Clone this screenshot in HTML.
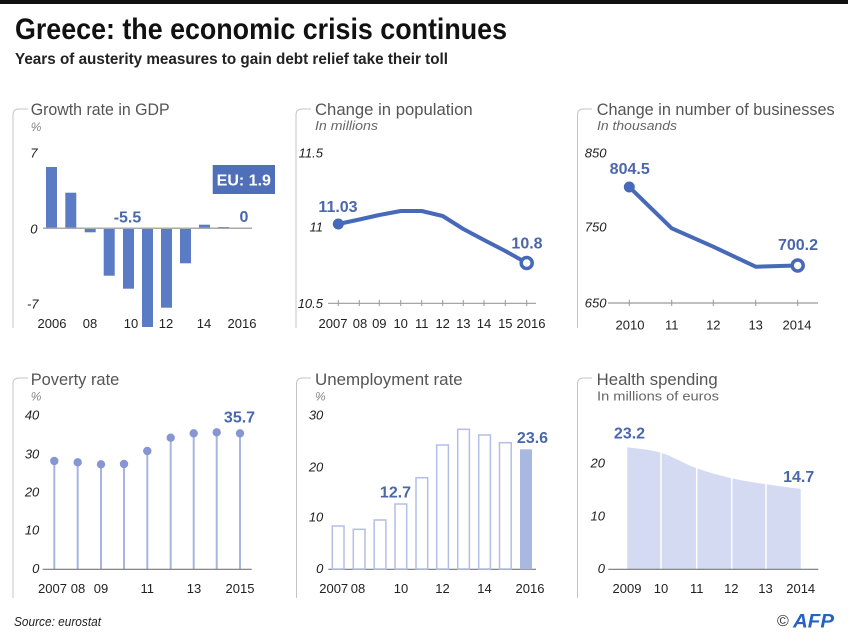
<!DOCTYPE html>
<html><head><meta charset="utf-8"><style>
html,body{margin:0;padding:0;background:#fff;}
svg{display:block;}
text{font-family:"Liberation Sans",sans-serif;}
.pt{font-size:16.5px;fill:#555;}
.sub{font-size:13px;fill:#666;font-style:italic;}
.pct{font-size:12px;fill:#888;font-style:italic;}
.yl{font-size:13px;fill:#222;font-style:italic;text-anchor:end;}
.xl{font-size:13px;fill:#222;text-anchor:middle;}
.vl{font-size:16px;fill:#4a66ad;font-weight:bold;text-anchor:middle;}
.br{fill:none;stroke:#c4c4c4;stroke-width:1;}
</style></head><body>
<svg width="848" height="640" viewBox="0 0 848 640" xmlns="http://www.w3.org/2000/svg">
<rect x="0" y="0" width="848" height="640" fill="#fff"/>
<rect x="0" y="0" width="848" height="4" fill="#111"/>
<text x="15" y="39" font-size="30" font-weight="bold" fill="#111" textLength="492" lengthAdjust="spacingAndGlyphs">Greece: the economic crisis continues</text>
<text x="15" y="64" font-size="16" font-weight="bold" fill="#222" textLength="433" lengthAdjust="spacingAndGlyphs">Years of austerity measures to gain debt relief take their toll</text>

<!-- brackets -->
<path class="br" d="M13,328 V115 Q13,109 19,109 H28"/>
<path class="br" d="M296,328 V115 Q296,109 302,109 H311"/>
<path class="br" d="M577.5,328 V115 Q577.5,109 583.5,109 H592"/>
<path class="br" d="M13,598 V384 Q13,378 19,378 H28"/>
<path class="br" d="M296.5,598 V384 Q296.5,378 302.5,378 H311"/>
<path class="br" d="M577.5,598 V384 Q577.5,378 583.5,378 H592"/>

<!-- Panel 1: GDP -->
<text class="pt" x="30.7" y="115" textLength="139" lengthAdjust="spacingAndGlyphs">Growth rate in GDP</text>
<text class="pct" x="30.7" y="131">%</text>
<text class="yl" x="37.5" y="157.5">7</text>
<text class="yl" x="37.5" y="233.5">0</text>
<text class="yl" x="38.5" y="308.5">-7</text>
<g fill="#5b7bc5">
<rect x="46" y="167" width="11" height="61"/>
<rect x="65.3" y="192.7" width="11" height="35.3"/>
<rect x="84.7" y="228" width="11" height="4.3"/>
<rect x="103.7" y="228" width="11" height="47.7"/>
<rect x="123" y="228" width="11" height="60.7"/>
<rect x="142" y="228" width="11" height="99"/>
<rect x="161" y="228" width="11" height="79.7"/>
<rect x="180" y="228" width="11" height="35.3"/>
<rect x="199" y="224.7" width="11" height="3.3"/>
<rect x="218" y="227" width="11" height="1"/>
</g>
<line x1="43" y1="228.3" x2="252" y2="228.3" stroke="#aaa" stroke-width="1.5"/>
<text class="vl" x="127.5" y="222.5">-5.5</text>
<text class="vl" x="244" y="221.8">0</text>
<rect x="212.7" y="165" width="62.3" height="29" fill="#4f6fb9"/>
<text x="243.8" y="185.5" font-size="16" font-weight="bold" fill="#fff" text-anchor="middle">EU: 1.9</text>
<text class="xl" x="52" y="328">2006</text>
<text class="xl" x="90" y="328">08</text>
<text class="xl" x="131" y="328">10</text>
<text class="xl" x="166" y="328">12</text>
<text class="xl" x="204" y="328">14</text>
<text class="xl" x="242" y="328">2016</text>

<!-- Panel 2: Population -->
<text class="pt" x="315" y="115" textLength="157.7" lengthAdjust="spacingAndGlyphs">Change in population</text>
<text class="sub" x="315" y="130" textLength="63" lengthAdjust="spacingAndGlyphs">In millions</text>
<text class="yl" x="323" y="157.3">11.5</text>
<text class="yl" x="323" y="231.3">11</text>
<text class="yl" x="323" y="308">10.5</text>
<line x1="328" y1="303.3" x2="536" y2="303.3" stroke="#999" stroke-width="1.2"/>
<g stroke="#999" stroke-width="1">
<line x1="338.3" y1="300" x2="338.3" y2="306"/>
<line x1="359.3" y1="300" x2="359.3" y2="306"/>
<line x1="379.3" y1="300" x2="379.3" y2="306"/>
<line x1="400.7" y1="300" x2="400.7" y2="306"/>
<line x1="421.7" y1="300" x2="421.7" y2="306"/>
<line x1="442.7" y1="300" x2="442.7" y2="306"/>
<line x1="463.3" y1="300" x2="463.3" y2="306"/>
<line x1="484" y1="300" x2="484" y2="306"/>
<line x1="505.3" y1="300" x2="505.3" y2="306"/>
<line x1="526.7" y1="300" x2="526.7" y2="306"/>
</g>
<polyline points="338.3,224 359.3,219.5 379.3,215 400.7,211 421.7,211 442.7,216 463.3,229 484,240 505.3,251 526.7,263" fill="none" stroke="#4669b8" stroke-width="4" stroke-linejoin="round" stroke-linecap="round"/>
<circle cx="338.3" cy="224" r="5.5" fill="#4669b8"/>
<circle cx="526.7" cy="263" r="5.5" fill="#fff" stroke="#4669b8" stroke-width="3.5"/>
<text class="vl" x="338" y="211.8">11.03</text>
<text class="vl" x="527" y="248.5">10.8</text>
<text class="xl" x="333" y="328">2007</text>
<text class="xl" x="360" y="328">08</text>
<text class="xl" x="379.3" y="328">09</text>
<text class="xl" x="400.7" y="328">10</text>
<text class="xl" x="421.7" y="328">11</text>
<text class="xl" x="442.7" y="328">12</text>
<text class="xl" x="463.3" y="328">13</text>
<text class="xl" x="484" y="328">14</text>
<text class="xl" x="505.3" y="328">15</text>
<text class="xl" x="531" y="328">2016</text>

<!-- Panel 3: Businesses -->
<text class="pt" x="596.7" y="115" textLength="238" lengthAdjust="spacingAndGlyphs">Change in number of businesses</text>
<text class="sub" x="597" y="130" textLength="80" lengthAdjust="spacingAndGlyphs">In thousands</text>
<text class="yl" x="606.5" y="157.3">850</text>
<text class="yl" x="606.5" y="231.3">750</text>
<text class="yl" x="606.5" y="307.3">650</text>
<line x1="608" y1="303" x2="818" y2="303" stroke="#999" stroke-width="1.2"/>
<g stroke="#999" stroke-width="1">
<line x1="629.3" y1="299.7" x2="629.3" y2="306"/>
<line x1="671.7" y1="299.7" x2="671.7" y2="306"/>
<line x1="713.3" y1="299.7" x2="713.3" y2="306"/>
<line x1="755.7" y1="299.7" x2="755.7" y2="306"/>
<line x1="797.7" y1="299.7" x2="797.7" y2="306"/>
</g>
<polyline points="629.3,187 671.7,228.3 713.3,246.7 755.7,266.7 797.7,265.5" fill="none" stroke="#4669b8" stroke-width="4" stroke-linejoin="round" stroke-linecap="round"/>
<circle cx="629.3" cy="187" r="5.5" fill="#4669b8"/>
<circle cx="797.7" cy="265.5" r="5.5" fill="#fff" stroke="#4669b8" stroke-width="3.5"/>
<text class="vl" x="629.7" y="174">804.5</text>
<text class="vl" x="798" y="249.8">700.2</text>
<text class="xl" x="630" y="329.5">2010</text>
<text class="xl" x="671.7" y="329.5">11</text>
<text class="xl" x="713.3" y="329.5">12</text>
<text class="xl" x="755.7" y="329.5">13</text>
<text class="xl" x="797" y="329.5">2014</text>

<!-- Panel 4: Poverty -->
<text class="pt" x="30.7" y="385" textLength="88.6" lengthAdjust="spacingAndGlyphs">Poverty rate</text>
<text class="pct" x="30.7" y="400.5">%</text>
<text class="yl" x="39.3" y="419.7">40</text>
<text class="yl" x="39.3" y="458.7">30</text>
<text class="yl" x="39.3" y="496.4">20</text>
<text class="yl" x="39.3" y="534.7">10</text>
<text class="yl" x="39.3" y="573">0</text>
<g stroke="#a8b5e1" stroke-width="2">
<line x1="54.3" y1="461" x2="54.3" y2="569"/>
<line x1="77.7" y1="462.3" x2="77.7" y2="569"/>
<line x1="101" y1="464.3" x2="101" y2="569"/>
<line x1="124" y1="464" x2="124" y2="569"/>
<line x1="147.3" y1="451" x2="147.3" y2="569"/>
<line x1="170.7" y1="437.7" x2="170.7" y2="569"/>
<line x1="193.7" y1="433.3" x2="193.7" y2="569"/>
<line x1="216.7" y1="432.3" x2="216.7" y2="569"/>
<line x1="240" y1="433.3" x2="240" y2="569"/>
</g>
<line x1="42.7" y1="569.3" x2="251.7" y2="569.3" stroke="#777" stroke-width="1.2"/>
<g fill="#8596d2">
<circle cx="54.3" cy="461" r="4.2"/>
<circle cx="77.7" cy="462.3" r="4.2"/>
<circle cx="101" cy="464.3" r="4.2"/>
<circle cx="124" cy="464" r="4.2"/>
<circle cx="147.3" cy="451" r="4.2"/>
<circle cx="170.7" cy="437.7" r="4.2"/>
<circle cx="193.7" cy="433.3" r="4.2"/>
<circle cx="216.7" cy="432.3" r="4.2"/>
<circle cx="240" cy="433.3" r="4.2"/>
</g>
<text class="vl" x="239.5" y="422.5">35.7</text>
<text class="xl" x="52.5" y="593">2007</text>
<text class="xl" x="78" y="593">08</text>
<text class="xl" x="101" y="593">09</text>
<text class="xl" x="147.3" y="593">11</text>
<text class="xl" x="194" y="593">13</text>
<text class="xl" x="240" y="593">2015</text>

<!-- Panel 5: Unemployment -->
<text class="pt" x="315" y="385" textLength="147.7" lengthAdjust="spacingAndGlyphs">Unemployment rate</text>
<text class="pct" x="315" y="400.5">%</text>
<text class="yl" x="323.3" y="419.7">30</text>
<text class="yl" x="323.3" y="471.4">20</text>
<text class="yl" x="323.3" y="521.4">10</text>
<text class="yl" x="323.3" y="573">0</text>
<line x1="328.3" y1="569.3" x2="536" y2="569.3" stroke="#777" stroke-width="1.2"/>
<g fill="#fff" stroke="#b3bee6" stroke-width="1.5">
<rect x="332.3" y="526" width="11.7" height="43"/>
<rect x="353.3" y="529.3" width="11.7" height="39.7"/>
<rect x="374.2" y="520" width="11.7" height="49"/>
<rect x="395" y="504" width="11.7" height="65"/>
<rect x="416" y="477.7" width="11.7" height="91.3"/>
<rect x="436.7" y="445" width="11.7" height="124"/>
<rect x="457.7" y="429.3" width="11.7" height="139.7"/>
<rect x="478.7" y="435" width="11.7" height="134"/>
<rect x="499.5" y="442.7" width="11.7" height="126.3"/>
</g>
<rect x="520" y="449.3" width="12" height="120" fill="#a9b8e1"/>
<text class="vl" x="395.5" y="497.5">12.7</text>
<text class="vl" x="532.5" y="443">23.6</text>
<text class="xl" x="333.7" y="593">2007</text>
<text class="xl" x="358" y="593">08</text>
<text class="xl" x="401" y="593">10</text>
<text class="xl" x="442.5" y="593">12</text>
<text class="xl" x="484.5" y="593">14</text>
<text class="xl" x="530" y="593">2016</text>

<!-- Panel 6: Health -->
<text class="pt" x="596.7" y="385" textLength="121" lengthAdjust="spacingAndGlyphs">Health spending</text>
<text x="597" y="400.7" font-size="13" fill="#666" textLength="122" lengthAdjust="spacingAndGlyphs">In millions of euros</text>
<text class="yl" x="605" y="467.4">20</text>
<text class="yl" x="605" y="520.7">10</text>
<text class="yl" x="605" y="573">0</text>
<path d="M627.3,569.3 V447.3 C632.9,448.2 649.4,449.2 661,452.7 C672.6,456.2 684.9,464 696.7,468.3 C708.5,472.6 720.1,475.6 731.7,478.3 C743.3,481 754.5,482.5 766,484.3 C777.5,486.1 795,488.2 800.7,489 V569.3 Z" fill="#d3daf2"/>
<g stroke="#fff" stroke-width="1.5">
<line x1="661" y1="450" x2="661" y2="569"/>
<line x1="696.7" y1="465" x2="696.7" y2="569"/>
<line x1="731.7" y1="475" x2="731.7" y2="569"/>
<line x1="766" y1="482" x2="766" y2="569"/>
</g>
<line x1="608.3" y1="569.3" x2="818.3" y2="569.3" stroke="#777" stroke-width="1.2"/>
<text class="vl" x="629.5" y="438.5">23.2</text>
<text class="vl" x="798.7" y="481.8">14.7</text>
<text class="xl" x="627" y="593">2009</text>
<text class="xl" x="661" y="593">10</text>
<text class="xl" x="696.7" y="593">11</text>
<text class="xl" x="731.3" y="593">12</text>
<text class="xl" x="765.5" y="593">13</text>
<text class="xl" x="800.7" y="593">2014</text>

<!-- Footer -->
<text x="14" y="626" font-size="12.5" font-style="italic" fill="#222" textLength="87" lengthAdjust="spacingAndGlyphs">Source: eurostat</text>
<text x="777" y="626" font-size="16" fill="#333">©</text>
<text x="793" y="627.5" font-size="19" font-weight="bold" font-style="italic" fill="#2463c4" textLength="41" lengthAdjust="spacingAndGlyphs">AFP</text>
</svg>
</body></html>
